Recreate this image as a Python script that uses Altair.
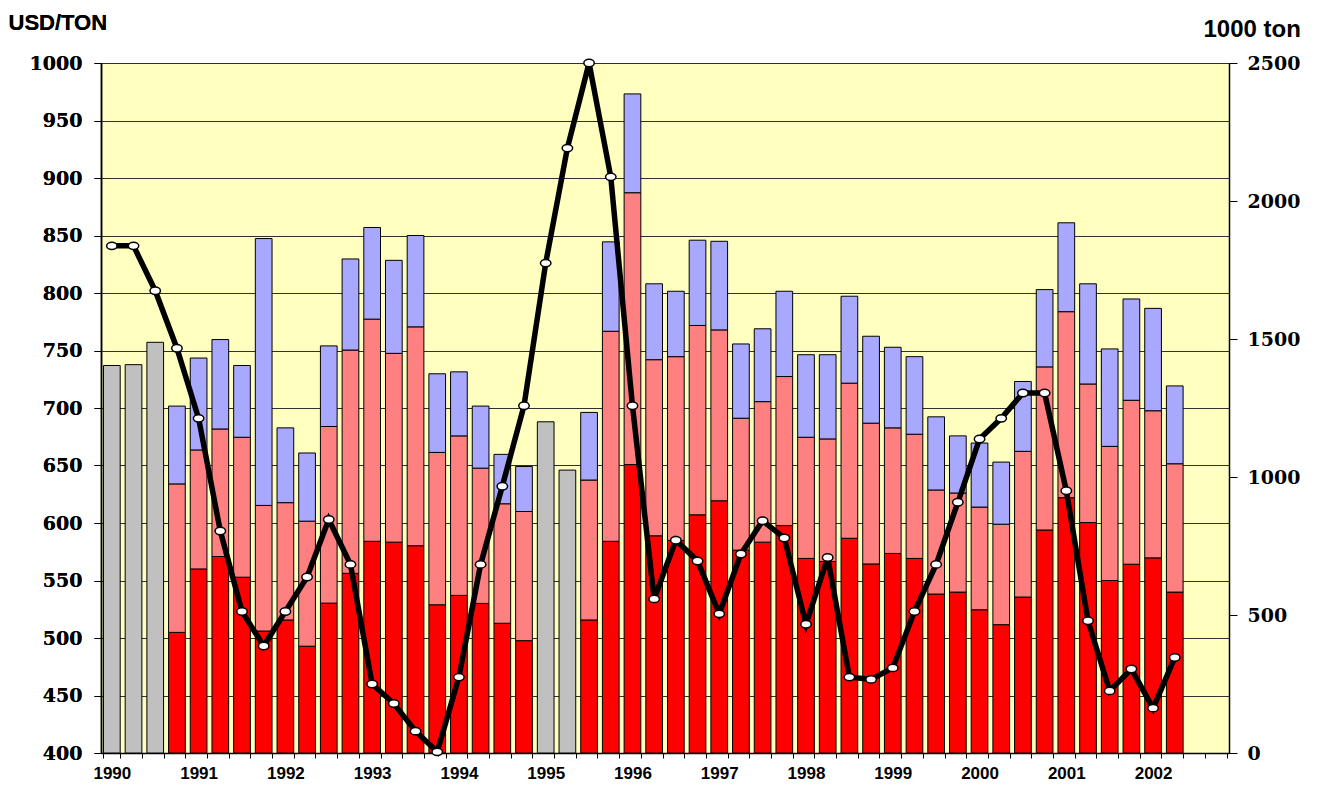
import altair as alt
import pandas as pd

years = list(range(1990, 2003))
quarters = [f"{y}Q{q}" for y in years for q in (1, 2, 3, 4)]  # 52 category slots
shown = quarters[:50]  # data 1990Q1 .. 2002Q2

# 1000 ton, stacked segments (bottom red, middle pink, top blue)
red = [None, None, None, 437, 667, 712, 637, 442, 482, 387, 543, 651, 767, 764, 751, 537,
       571, 542, 470, 407, None, None, 482, 767, 1045, 787, 770, 863, 914, 735, 764, 824,
       705, 694, 778, 685, 723, 705, 576, 583, 519, 465, 565, 808, 925, 835, 625, 684, 707, 583]
pink = [None, None, None, 538, 431, 462, 507, 455, 425, 453, 640, 809, 805, 684, 793, 552,
        578, 490, 433, 468, None, None, 507, 761, 985, 638, 666, 686, 619, 478, 509, 540,
        439, 444, 562, 510, 455, 450, 377, 359, 372, 364, 528, 591, 674, 502, 486, 594, 533, 465]
blue = [None, None, None, 282, 333, 324, 260, 967, 271, 247, 292, 330, 332, 337, 331, 285,
        232, 225, 179, 163, None, None, 245, 324, 358, 275, 237, 309, 321, 269, 264, 309,
        299, 305, 315, 315, 292, 281, 265, 207, 232, 225, 253, 280, 322, 363, 353, 367, 371, 282]
gray = [1404, 1407, 1488] + [None] * 17 + [1200, 1025] + [None] * 28

# USD/TON
price = [841, 841, 802, 752, 691, 593, 523, 493, 523, 553,
         603, 564, 460, 443, 419, 401, 466, 564, 632, 702,
         826, 926, 1000, 901, 702, 534, 585, 567, 521, 573,
         602, 587, 512, 570, 466, 464, 474, 523, 564, 618,
         673, 691, 713, 713, 628, 515, 454, 473, 439, 483]

series_names = ["Red", "Pink", "Blue", "Gray"]
series_colors = ["#FF0000", "#FF8080", "#A8A8FF", "#C0C0C0"]

rows = []
for i, q in enumerate(shown):
    for o, (name, arr) in enumerate(zip(series_names, [red, pink, blue, gray])):
        if arr[i] is not None:
            rows.append({"quarter": q, "series": name, "value": arr[i], "ord": o})
bar_df = pd.DataFrame(rows)
line_df = pd.DataFrame({"quarter": shown, "price": price})

xscale = alt.Scale(domain=quarters, paddingInner=0.23, paddingOuter=0.115)
xaxis = alt.Axis(
    title=None,
    labelExpr="indexof('' + datum.value, 'Q1') > 0 ? slice('' + datum.value, 0, 4) : ''",
    labelAngle=0, labelOverlap=False, tickBand="extent", tickSize=5,
    labelFont="Liberation Sans", labelFontWeight="bold", labelFontSize=17,
    labelColor="black", labelPadding=7, domainColor="black", domainWidth=1.5,
    tickColor="black", grid=False,
)

bars = alt.Chart(bar_df).mark_bar(stroke="black", strokeWidth=1, clip=True).encode(
    x=alt.X("quarter:N", scale=xscale, axis=xaxis),
    y=alt.Y("value:Q", stack="zero",
            scale=alt.Scale(domain=[0, 2500], nice=False),
            axis=alt.Axis(orient="right", values=[0, 500, 1000, 1500, 2000, 2500], format="d",
                          grid=False, title="1000 ton", titleAngle=0, titleAlign="left",
                          titleBaseline="alphabetic", titleX=-26, titleY=-27,
                          titleFont="Liberation Sans", titleFontSize=24, titleFontWeight="bold",
                          titleColor="black",
                          labelFont="DejaVu Serif", labelFontWeight="bold", labelFontSize=19,
                          labelColor="black", labelPadding=10, tickSize=8, tickColor="black",
                          domainColor="black", domainWidth=1.5)),
    color=alt.Color("series:N", scale=alt.Scale(domain=series_names, range=series_colors),
                    legend=None),
    order=alt.Order("ord:Q"),
)

yleft = alt.Y("price:Q",
              scale=alt.Scale(domain=[400, 1000], nice=False, zero=False),
              axis=alt.Axis(orient="left", values=list(range(400, 1001, 50)), format="d",
                            grid=True, gridColor="#303030", gridWidth=1,
                            title="USD/TON", titleAngle=0, titleAlign="left",
                            titleBaseline="alphabetic", titleX=-93, titleY=-34,
                            titleFont="Liberation Sans", titleFontSize=22, titleFontWeight="bold",
                            titleColor="black",
                            labelFont="DejaVu Serif", labelFontWeight="bold", labelFontSize=19,
                            labelColor="black", labelPadding=12, tickSize=7, tickColor="black",
                            domainColor="black", domainWidth=1.5))

line = alt.Chart(line_df).mark_line(color="black", strokeWidth=5.5).encode(
    x=alt.X("quarter:N", scale=xscale, axis=xaxis),
    y=yleft,
)
pts = alt.Chart(line_df).mark_point(
    shape="M -1.35 0 A 1.35 0.95 0 1 1 1.35 0 A 1.35 0.95 0 1 1 -1.35 0 Z",
    size=60, filled=True, fill="white", stroke="black", strokeWidth=1.5, opacity=1,
).encode(
    x=alt.X("quarter:N", scale=xscale, axis=xaxis),
    y=yleft,
)

chart = alt.layer(bars, line, pts).resolve_scale(y="independent").properties(
    width=1128, height=690,
    autosize=alt.AutoSizeParams(type="none"),
    padding={"left": 93, "top": 55, "right": 85, "bottom": 32},
    background="white",
).configure_view(fill="#FFFFC0", stroke="#808080", strokeWidth=1)

chart.save("out.html", embed_options={"renderer": "svg", "actions": False})
